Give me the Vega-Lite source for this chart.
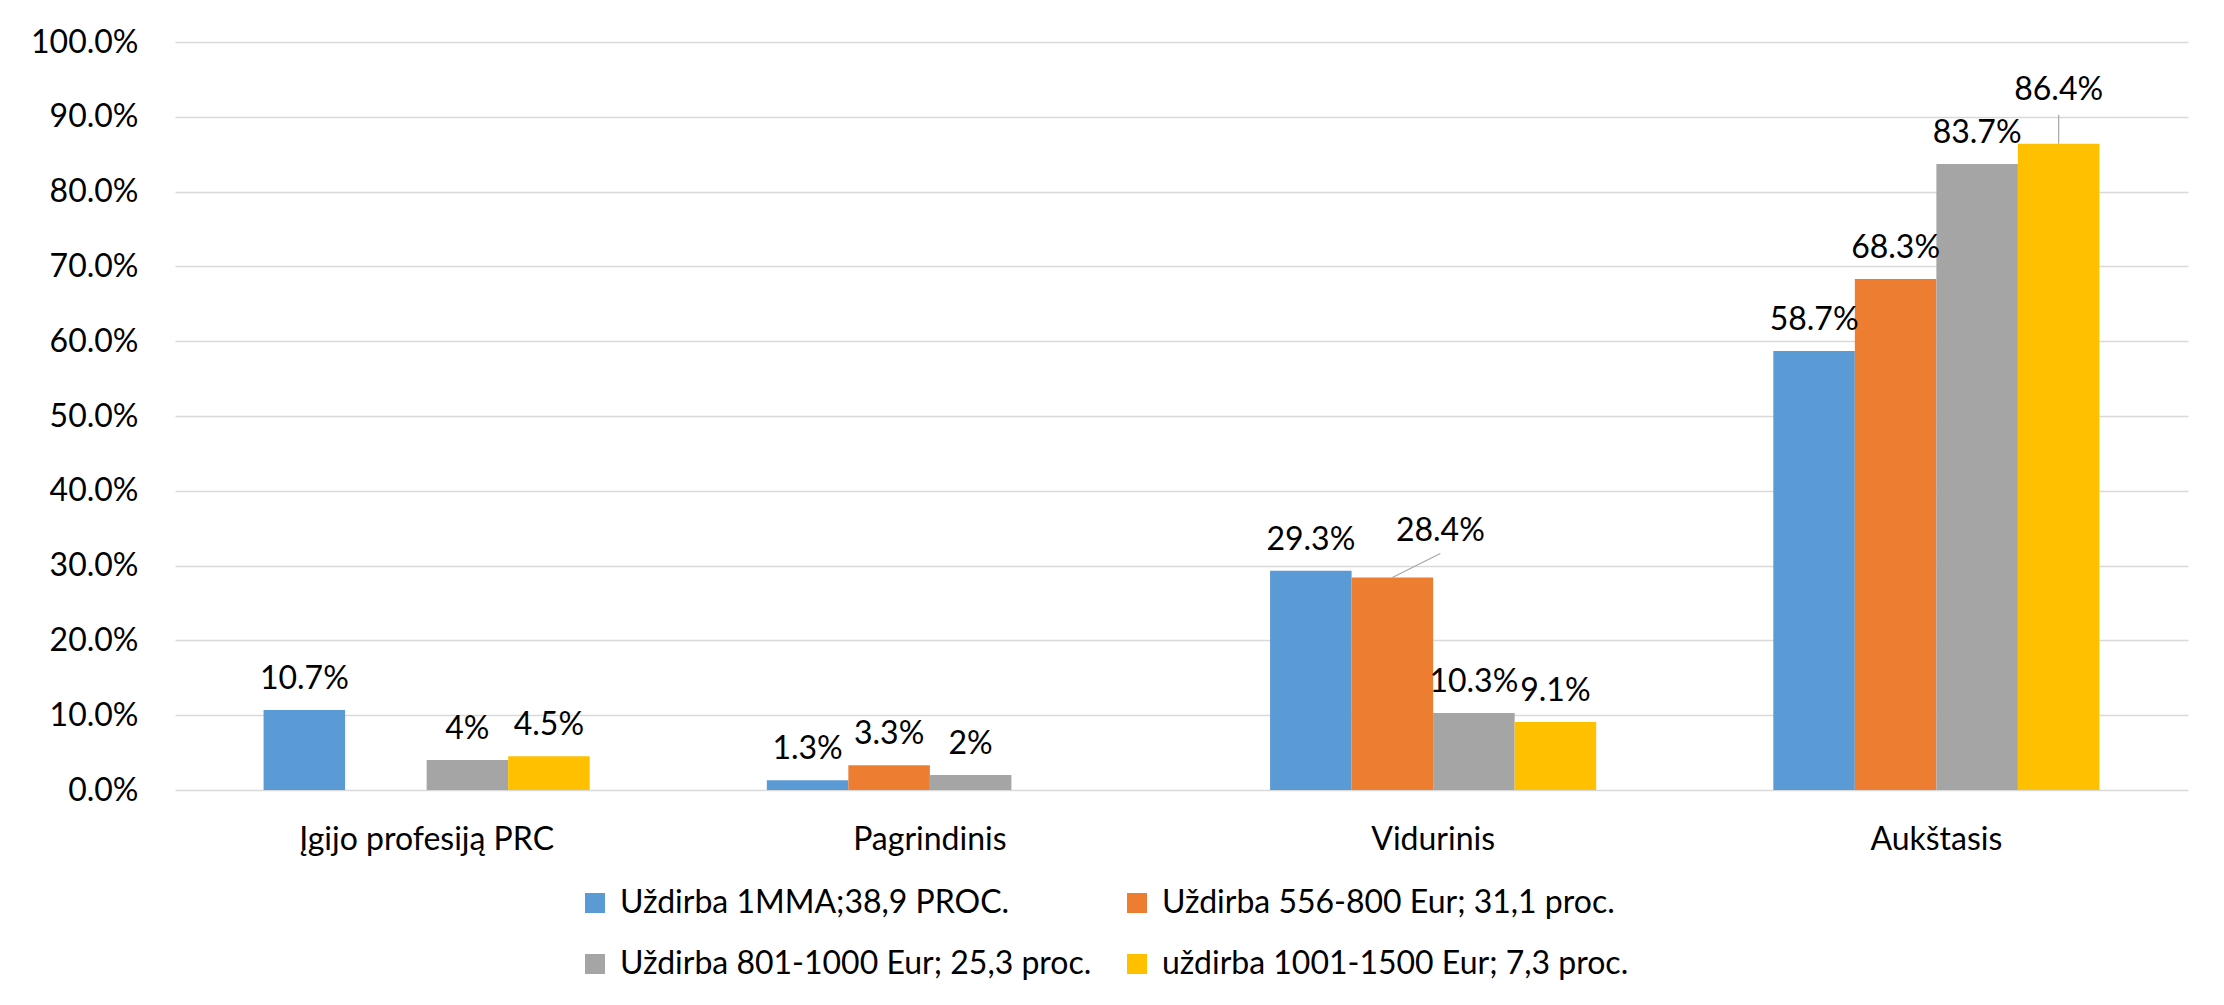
{
  "$schema": "https://vega.github.io/schema/vega-lite/v6.json",
  "width": 2013,
  "height": 748,
  "autosize": {"type": "none"},
  "padding": {"left": 175, "top": 42, "right": 36, "bottom": 215},
  "background": "white",
  "config": {"font": "Lato", "view": {"stroke": null}},
  "data": {
    "values": [
      {"kategorija": "Įgijo profesiją PRC", "grupe": "Uždirba 1MMA;38,9 PROC.", "reiksme": 0.107},
      {"kategorija": "Įgijo profesiją PRC", "grupe": "Uždirba 801-1000 Eur; 25,3 proc.", "reiksme": 0.04},
      {"kategorija": "Įgijo profesiją PRC", "grupe": "uždirba 1001-1500 Eur; 7,3 proc.", "reiksme": 0.045},
      {"kategorija": "Pagrindinis", "grupe": "Uždirba 1MMA;38,9 PROC.", "reiksme": 0.013},
      {"kategorija": "Pagrindinis", "grupe": "Uždirba 556-800 Eur; 31,1 proc.", "reiksme": 0.033},
      {"kategorija": "Pagrindinis", "grupe": "Uždirba 801-1000 Eur; 25,3 proc.", "reiksme": 0.02},
      {"kategorija": "Vidurinis", "grupe": "Uždirba 1MMA;38,9 PROC.", "reiksme": 0.293},
      {"kategorija": "Vidurinis", "grupe": "Uždirba 556-800 Eur; 31,1 proc.", "reiksme": 0.284},
      {"kategorija": "Vidurinis", "grupe": "Uždirba 801-1000 Eur; 25,3 proc.", "reiksme": 0.103},
      {"kategorija": "Vidurinis", "grupe": "uždirba 1001-1500 Eur; 7,3 proc.", "reiksme": 0.091},
      {"kategorija": "Aukštasis", "grupe": "Uždirba 1MMA;38,9 PROC.", "reiksme": 0.587},
      {"kategorija": "Aukštasis", "grupe": "Uždirba 556-800 Eur; 31,1 proc.", "reiksme": 0.683},
      {"kategorija": "Aukštasis", "grupe": "Uždirba 801-1000 Eur; 25,3 proc.", "reiksme": 0.837},
      {"kategorija": "Aukštasis", "grupe": "uždirba 1001-1500 Eur; 7,3 proc.", "reiksme": 0.864}
    ]
  },
  "encoding": {
    "x": {
      "field": "kategorija",
      "type": "nominal",
      "sort": ["Įgijo profesiją PRC", "Pagrindinis", "Vidurinis", "Aukštasis"],
      "scale": {"paddingInner": 0.352, "paddingOuter": 0.176},
      "axis": {"title": null, "labelAngle": 0, "domain": false, "ticks": false, "labelFontSize": 32, "labelPadding": 34, "labelColor": "black", "labelLimit": 1000}
    },
    "xOffset": {
      "field": "grupe",
      "type": "nominal",
      "scale": {"domain": ["Uždirba 1MMA;38,9 PROC.", "Uždirba 556-800 Eur; 31,1 proc.", "Uždirba 801-1000 Eur; 25,3 proc.", "uždirba 1001-1500 Eur; 7,3 proc."], "paddingInner": 0, "paddingOuter": 0}
    },
    "y": {
      "field": "reiksme",
      "type": "quantitative",
      "scale": {"domain": [0, 1]},
      "axis": {"title": null, "format": ".1%", "values": [0, 0.1, 0.2, 0.3, 0.4, 0.5, 0.6, 0.7, 0.8, 0.9, 1], "domain": false, "ticks": false, "labelFontSize": 32, "labelPadding": 37, "labelColor": "black", "gridColor": "#d9d9d9", "gridWidth": 1.5}
    }
  },
  "layer": [
    {
      "mark": {"type": "bar"},
      "encoding": {
        "color": {
          "field": "grupe",
          "type": "nominal",
          "scale": {"domain": ["Uždirba 1MMA;38,9 PROC.", "Uždirba 556-800 Eur; 31,1 proc.", "Uždirba 801-1000 Eur; 25,3 proc.", "uždirba 1001-1500 Eur; 7,3 proc."], "range": ["#5B9BD5", "#ED7D31", "#A5A5A5", "#FFC000"]},
          "legend": {"orient": "none", "direction": "horizontal", "legendX": 404, "legendY": 845, "columns": 2, "title": null, "symbolType": "square", "symbolSize": 400, "symbolStrokeWidth": 0, "labelFontSize": 32, "labelColor": "black", "labelLimit": 1000, "columnPadding": 29, "rowPadding": 29, "labelOffset": 9, "padding": 0}
        }
      }
    },
    {
      "transform": [{"filter": "!(datum.kategorija == 'Vidurinis' && datum.reiksme == 0.284) && !(datum.kategorija == 'Aukštasis' && datum.reiksme == 0.864)"}],
      "mark": {"type": "text", "dy": -21, "baseline": "alphabetic", "fontSize": 32, "color": "black"},
      "encoding": {"text": {"field": "reiksme", "type": "quantitative", "format": ".1~%"}}
    },
    {
      "transform": [{"filter": "datum.kategorija == 'Vidurinis' && datum.reiksme == 0.284"}],
      "mark": {"type": "text", "dx": 48, "dy": -37, "baseline": "alphabetic", "fontSize": 32, "color": "black"},
      "encoding": {"text": {"field": "reiksme", "type": "quantitative", "format": ".1~%"}}
    },
    {
      "transform": [{"filter": "datum.kategorija == 'Vidurinis' && datum.reiksme == 0.284"}],
      "mark": {"type": "point", "shape": "M0,0L2,-1", "size": 2304, "filled": false, "stroke": "#a6a6a6", "strokeWidth": 1.2, "opacity": 1}
    },
    {
      "transform": [{"filter": "datum.kategorija == 'Aukštasis' && datum.reiksme == 0.864"}],
      "mark": {"type": "text", "dy": -44, "baseline": "alphabetic", "fontSize": 32, "color": "black"},
      "encoding": {"text": {"field": "reiksme", "type": "quantitative", "format": ".1~%"}}
    },
    {
      "transform": [{"filter": "datum.kategorija == 'Aukštasis' && datum.reiksme == 0.864"}],
      "mark": {"type": "point", "shape": "M0,0L0,-1", "size": 3364, "filled": false, "stroke": "#a6a6a6", "strokeWidth": 1.2, "opacity": 1}
    }
  ]
}
